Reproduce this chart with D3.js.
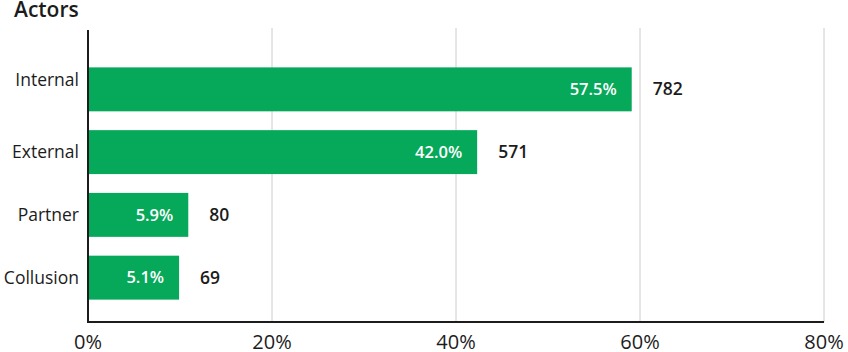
<!DOCTYPE html>
<html>
<head>
<meta charset="utf-8">
<script src="https://cdn.jsdelivr.net/npm/d3@7"></script>
<style>
  body { margin: 0; background: #fff; }
  svg { display: block; font-family: 'Open Sans', sans-serif; }
</style>
</head>
<body>
<div id="chart"></div>
<script>
// categories, top to bottom
const actors = ['Internal', 'External', 'Partner', 'Collusion'];
// share of incidents (printed inside the bars)
const shares = [57.5, 42.0, 5.9, 5.1];
// incident counts (printed after the bars)
const counts = [782, 571, 80, 69];
// bar extent as drawn in the source graphic, in axis %
const barExtent = [59.1, 42.3, 10.9, 9.9];
// x axis ticks
const xTicks = [0, 20, 40, 60, 80];

const width = 848, height = 352;
const green = '#06a85a';
const ink = '#1c1c1c';

const rows = actors.map((a, i) => ({ actor: a, share: shares[i], count: counts[i], extent: barExtent[i] }));

const svg = d3.select('#chart').append('svg')
    .attr('width', width)
    .attr('height', height);

const x = d3.scaleLinear().domain([0, 80]).range([88, 824]);
const y = d3.scaleBand()
    .domain(actors)
    .range([36, 331])
    .paddingInner(0.3)
    .paddingOuter(0.5);

const axisTop = 30, axisBottom = 322;
const mid = d => y(d.actor) + y.bandwidth() / 2;

// title
svg.append('text')
    .attr('x', 14)
    .attr('y', 17)
    .attr('font-size', 21)
    .attr('font-weight', 600)
    .attr('fill', ink)
    .text('Actors');

// vertical gridlines
svg.append('g')
    .selectAll('line')
    .data(xTicks.filter(d => d > 0))
    .enter().append('line')
    .attr('x1', d => x(d))
    .attr('x2', d => x(d))
    .attr('y1', axisTop - 2)
    .attr('y2', axisBottom)
    .attr('stroke', '#cccccc')
    .attr('stroke-width', 1);

// bars
svg.append('g')
    .selectAll('rect')
    .data(rows)
    .enter().append('rect')
    .attr('x', x(0))
    .attr('y', d => y(d.actor))
    .attr('width', d => x(d.extent) - x(0))
    .attr('height', y.bandwidth())
    .attr('fill', green);

// share labels inside bars
svg.append('g')
    .selectAll('text')
    .data(rows)
    .enter().append('text')
    .attr('x', d => x(d.extent) - 15)
    .attr('y', mid)
    .attr('dy', '0.35em')
    .attr('text-anchor', 'end')
    .attr('font-size', 16.5)
    .attr('font-weight', 600)
    .attr('fill', '#fff')
    .text(d => d.share.toFixed(1) + '%');

// count labels
svg.append('g')
    .selectAll('text')
    .data(rows)
    .enter().append('text')
    .attr('x', d => x(d.extent) + 21)
    .attr('y', mid)
    .attr('dy', '0.35em')
    .attr('font-size', 17.5)
    .attr('font-weight', 600)
    .attr('fill', ink)
    .text(d => d.count);

// category labels (the top one sits a little high in the source)
svg.append('g')
    .selectAll('text')
    .data(rows)
    .enter().append('text')
    .attr('x', 79)
    .attr('y', (d, i) => mid(d) - (i === 0 ? 9 : 0))
    .attr('dy', '0.35em')
    .attr('text-anchor', 'end')
    .attr('font-size', 17.5)
    .attr('fill', ink)
    .text(d => d.actor);

// axis lines
svg.append('line')
    .attr('x1', x(0)).attr('x2', x(0))
    .attr('y1', axisTop).attr('y2', axisBottom + 1)
    .attr('stroke', ink).attr('stroke-width', 2);
svg.append('line')
    .attr('x1', x(0) - 1).attr('x2', x(80))
    .attr('y1', axisBottom).attr('y2', axisBottom)
    .attr('stroke', ink).attr('stroke-width', 2);

// x tick labels
svg.append('g')
    .selectAll('text')
    .data(xTicks)
    .enter().append('text')
    .attr('x', d => x(d))
    .attr('y', 349)
    .attr('text-anchor', 'middle')
    .attr('font-size', 20)
    .attr('fill', ink)
    .text(d => d + '%');
</script>
</body>
</html>
